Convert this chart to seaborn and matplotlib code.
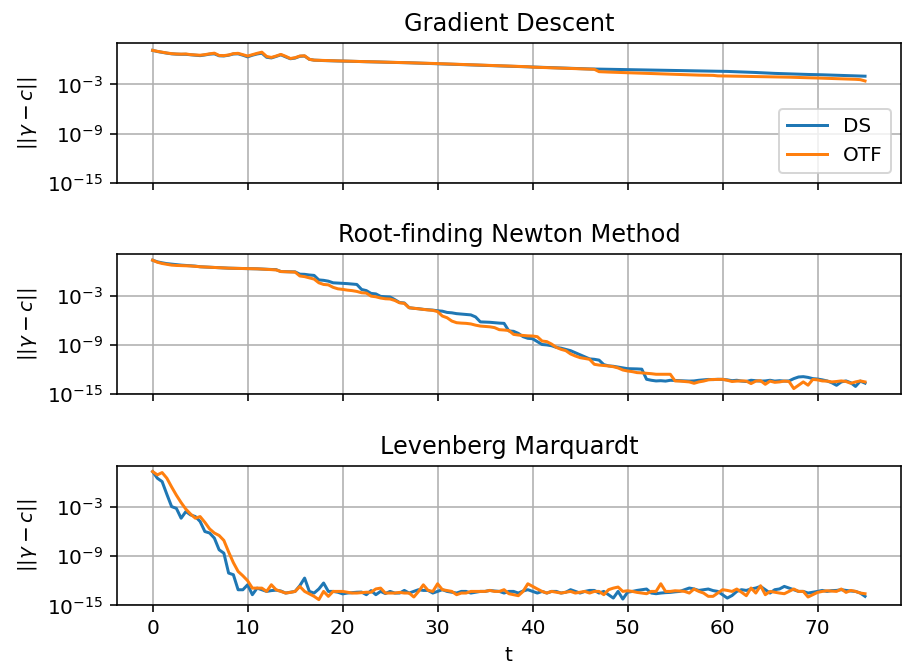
import numpy as np
import pandas as pd
import matplotlib
matplotlib.use("Agg")
import matplotlib.pyplot as plt
import matplotlib.ticker as mticker
import seaborn as sns

# time axis: 0 .. 75 in steps of 0.5
t = np.arange(151) * 0.5

titles = ["Gradient Descent", "Root-finding Newton Method", "Levenberg Marquardt"]
series_names = ["DS", "OTF"]
ylabel = r"$||\gamma - c||$"
xlabel = "t"

# log10 of ||gamma - c||
gd_ds_log = [
    1.14, 1.00, 0.90, 0.80, 0.72, 0.68, 0.66, 0.66, 0.60, 0.55,
    0.50, 0.58, 0.68, 0.72, 0.48, 0.46, 0.55, 0.70, 0.72, 0.55,
    0.35, 0.55, 0.70, 0.80, 0.30, 0.22, 0.40, 0.60, 0.35, 0.12,
    0.20, 0.42, 0.45, 0.05, -0.05, -0.08, -0.10, -0.12, -0.13, -0.15,
    -0.16, -0.18, -0.19, -0.21, -0.22, -0.24, -0.25, -0.27, -0.28, -0.30,
    -0.31, -0.33, -0.34, -0.36, -0.37, -0.39, -0.40, -0.42, -0.44, -0.46,
    -0.48, -0.50, -0.52, -0.54, -0.56, -0.58, -0.60, -0.62, -0.64, -0.66,
    -0.68, -0.70, -0.72, -0.74, -0.76, -0.78, -0.80, -0.82, -0.84, -0.86,
    -0.88, -0.90, -0.92, -0.94, -0.96, -0.98, -1.00, -1.02, -1.04, -1.06,
    -1.08, -1.10, -1.12, -1.13, -1.14, -1.15, -1.16, -1.17, -1.18, -1.19,
    -1.20, -1.21, -1.22, -1.23, -1.24, -1.25, -1.26, -1.27, -1.28, -1.29,
    -1.30, -1.31, -1.32, -1.33, -1.34, -1.35, -1.36, -1.37, -1.38, -1.39,
    -1.40, -1.42, -1.44, -1.46, -1.48, -1.50, -1.52, -1.55, -1.58, -1.61,
    -1.64, -1.66, -1.68, -1.70, -1.72, -1.74, -1.76, -1.78, -1.79, -1.80,
    -1.81, -1.83, -1.85, -1.87, -1.89, -1.91, -1.93, -1.95, -1.97, -1.99, -2.00,
]
gd_otf_log = [
    1.14, 1.02, 0.92, 0.82, 0.74, 0.70, 0.68, 0.70, 0.62, 0.58,
    0.55, 0.62, 0.72, 0.80, 0.52, 0.50, 0.58, 0.74, 0.78, 0.62,
    0.45, 0.62, 0.78, 0.92, 0.40, 0.28, 0.45, 0.65, 0.42, 0.15,
    0.25, 0.45, 0.48, 0.05, -0.05, -0.07, -0.09, -0.11, -0.13, -0.14,
    -0.15, -0.17, -0.19, -0.20, -0.22, -0.23, -0.25, -0.26, -0.28, -0.29,
    -0.31, -0.32, -0.34, -0.35, -0.37, -0.38, -0.40, -0.42, -0.43, -0.45,
    -0.47, -0.49, -0.51, -0.53, -0.55, -0.57, -0.59, -0.61, -0.63, -0.65,
    -0.67, -0.69, -0.71, -0.73, -0.75, -0.77, -0.79, -0.81, -0.83, -0.85,
    -0.90, -0.92, -0.94, -0.96, -0.98, -1.00, -1.02, -1.04, -1.06, -1.08,
    -1.10, -1.12, -1.14, -1.16, -1.45, -1.48, -1.50, -1.52, -1.54, -1.56,
    -1.57, -1.59, -1.61, -1.63, -1.65, -1.67, -1.69, -1.71, -1.73, -1.75,
    -1.77, -1.79, -1.81, -1.83, -1.85, -1.87, -1.88, -1.89, -1.90, -1.96,
    -1.97, -1.98, -1.99, -2.00, -2.01, -2.02, -2.03, -2.04, -2.05, -2.06,
    -2.07, -2.08, -2.09, -2.10, -2.12, -2.14, -2.16, -2.18, -2.19, -2.20,
    -2.22, -2.24, -2.26, -2.28, -2.30, -2.32, -2.34, -2.36, -2.38, -2.42, -2.58,
]
nt_ds_log = [
    1.30, 1.10, 0.98, 0.88, 0.82, 0.76, 0.70, 0.66, 0.62, 0.58,
    0.50, 0.47, 0.44, 0.40, 0.37, 0.35, 0.33, 0.31, 0.30, 0.29,
    0.28, 0.27, 0.25, 0.22, 0.20, 0.17, 0.15, -0.08, -0.10, -0.11,
    -0.12, -0.40, -0.42, -0.50, -0.55, -1.10, -1.15, -1.25, -1.45, -1.48,
    -1.52, -1.55, -1.60, -1.65, -2.26, -2.40, -2.74, -2.80, -3.10, -3.15,
    -3.18, -3.50, -3.85, -3.90, -4.48, -4.55, -4.60, -4.68, -4.72, -4.77,
    -4.85, -4.90, -5.05, -5.10, -5.20, -5.25, -5.29, -5.35, -5.60, -6.20,
    -6.22, -6.25, -6.30, -6.35, -6.38, -7.30, -7.35, -7.60, -8.00, -8.20,
    -8.25, -8.60, -8.95, -9.00, -9.10, -9.30, -9.40, -9.55, -9.70, -9.95,
    -10.20, -10.45, -10.70, -10.75, -10.85, -11.40, -11.55, -11.60, -11.70, -11.80,
    -11.89, -11.90, -11.92, -11.95, -13.18, -13.30, -13.38, -13.35, -13.40, -13.30,
    -13.32, -13.35, -13.38, -13.40, -13.38, -13.30, -13.25, -13.20, -13.22, -13.18,
    -13.20, -13.25, -13.35, -13.30, -13.40, -13.45, -13.30, -13.35, -13.40, -13.38,
    -13.30, -13.40, -13.35, -13.40, -13.38, -13.10, -12.90, -12.86, -12.95, -13.10,
    -13.15, -13.25, -13.38, -13.60, -13.91, -13.50, -13.38, -13.60, -14.05, -13.40, -13.65,
]
nt_otf_log = [
    1.30, 1.05, 0.90, 0.80, 0.70, 0.66, 0.64, 0.62, 0.60, 0.55,
    0.50, 0.47, 0.44, 0.40, 0.37, 0.35, 0.33, 0.31, 0.30, 0.29,
    0.28, 0.27, 0.25, 0.22, 0.20, 0.15, 0.12, -0.08, -0.10, -0.11,
    -0.15, -0.62, -0.70, -0.85, -1.00, -1.45, -1.65, -1.70, -2.00, -2.18,
    -2.25, -2.34, -2.40, -2.50, -2.66, -2.70, -3.07, -3.15, -3.30, -3.39,
    -3.42, -3.60, -3.88, -3.95, -4.48, -4.55, -4.62, -4.70, -4.75, -4.80,
    -4.95, -5.49, -5.70, -6.10, -6.30, -6.35, -6.38, -6.45, -6.60, -6.71,
    -6.75, -6.80, -6.90, -7.15, -7.19, -7.25, -7.72, -7.80, -7.85, -7.90,
    -7.92, -8.00, -8.53, -8.60, -8.90, -9.30, -9.54, -9.70, -10.10, -10.35,
    -10.55, -10.65, -10.75, -11.36, -11.45, -11.50, -11.56, -11.65, -11.80, -12.05,
    -12.17, -12.25, -12.37, -12.40, -12.45, -12.50, -12.57, -12.57, -12.57, -12.57,
    -13.38, -13.40, -13.45, -13.50, -13.67, -13.50, -13.40, -13.25, -13.20, -13.20,
    -13.18, -13.30, -13.45, -13.40, -13.38, -13.40, -13.70, -13.40, -13.35, -13.79,
    -13.40, -13.55, -13.50, -13.40, -13.45, -14.31, -13.90, -13.50, -13.90, -13.20,
    -13.25, -13.38, -13.40, -13.50, -13.45, -13.38, -13.45, -13.67, -13.50, -13.38, -13.50,
]
lm_ds_log = [
    1.27, 0.46, 0.05, -1.50, -2.99, -3.20, -4.40, -3.59, -4.00, -4.20,
    -4.80, -6.02, -6.20, -6.82, -8.24, -8.65, -11.07, -11.27, -13.10, -13.10,
    -12.49, -13.70, -12.90, -13.10, -13.30, -13.20, -13.15, -13.25, -13.50, -13.40,
    -13.30, -12.60, -11.68, -13.30, -13.50, -13.00, -12.28, -13.30, -13.30, -13.40,
    -13.60, -13.50, -13.45, -13.40, -13.38, -13.70, -13.20, -13.70, -13.30, -13.56,
    -13.30, -13.50, -13.50, -13.18, -13.50, -13.30, -13.09, -13.18, -13.18, -13.50,
    -13.30, -13.09, -13.30, -13.40, -13.50, -13.30, -13.30, -13.50, -13.40, -13.30,
    -13.30, -13.18, -13.25, -13.30, -13.50, -13.30, -13.30, -13.50, -13.25, -13.09,
    -13.30, -13.50, -13.30, -13.50, -13.30, -13.30, -13.50, -13.40, -13.09, -13.30,
    -13.50, -13.30, -13.18, -13.18, -13.50, -13.30, -13.70, -14.11, -13.30, -14.23,
    -13.40, -13.30, -13.18, -13.10, -13.01, -13.50, -13.58, -13.50, -13.45, -13.42,
    -13.35, -13.30, -13.10, -12.89, -13.00, -13.18, -13.10, -13.01, -13.20, -13.30,
    -13.70, -14.11, -13.80, -13.30, -13.09, -13.18, -13.00, -12.89, -12.69, -13.10,
    -13.50, -13.09, -13.00, -12.69, -12.89, -13.10, -13.30, -13.30, -13.50, -13.40,
    -13.30, -13.18, -13.30, -13.20, -13.18, -13.09, -13.18, -13.25, -13.30, -13.50, -13.90,
]
lm_otf_log = [
    1.27, 0.87, 1.15, 0.46, -0.60, -1.60, -2.50, -3.30, -3.90, -4.40,
    -4.20, -4.90, -5.70, -6.20, -6.50, -7.10, -8.50, -9.80, -10.87, -11.40,
    -12.00, -12.90, -12.90, -12.90, -13.30, -12.49, -13.10, -13.30, -13.50, -13.42,
    -13.30, -12.70, -13.30, -13.60, -13.90, -14.30, -13.30, -13.90, -13.30, -13.30,
    -13.30, -13.40, -13.50, -13.50, -13.45, -13.40, -13.40, -13.00, -12.90, -13.50,
    -13.50, -13.50, -13.42, -13.50, -13.50, -13.98, -13.30, -12.50, -13.18, -13.30,
    -12.37, -13.09, -13.20, -13.30, -13.70, -13.50, -13.50, -13.30, -13.30, -13.30,
    -13.30, -13.18, -13.30, -13.30, -13.09, -13.58, -13.70, -13.82, -13.30, -12.37,
    -12.69, -13.00, -13.30, -13.50, -13.30, -13.40, -13.50, -13.40, -13.30, -13.50,
    -13.40, -13.30, -13.50, -13.30, -13.30, -13.70, -13.09, -12.90, -12.77, -13.30,
    -13.22, -13.30, -13.42, -13.50, -13.58, -13.30, -13.30, -12.37, -13.30, -13.30,
    -13.22, -13.25, -13.30, -13.50, -13.01, -13.30, -13.50, -13.90, -13.90, -13.50,
    -13.09, -13.18, -13.30, -13.01, -13.40, -13.82, -12.89, -13.50, -12.61, -13.70,
    -13.30, -13.40, -13.50, -13.58, -13.30, -13.01, -13.30, -13.30, -13.98, -13.70,
    -13.42, -13.30, -13.22, -13.26, -13.30, -13.01, -13.42, -13.18, -13.30, -13.50, -13.58,
]

panels = [
    (gd_ds_log, gd_otf_log),
    (nt_ds_log, nt_otf_log),
    (lm_ds_log, lm_otf_log),
]
colors = ["#1f77b4", "#ff7f0e"]

DPI = 144
fig, axes = plt.subplots(3, 1, figsize=(907 / DPI, 666 / DPI), dpi=DPI, sharex=True)
fig.subplots_adjust(left=0.129, right=0.993, top=0.935, bottom=0.091, hspace=0.51)

for k, (ax, (ds, otf), title) in enumerate(zip(axes, panels, titles)):
    for name, vals, col in zip(series_names, (ds, otf), colors):
        df = pd.DataFrame({"t": t, "err": np.power(10.0, np.asarray(vals))})
        sns.lineplot(data=df, x="t", y="err", ax=ax, color=col, label=name,
                     linewidth=1.5, legend=False)
    ax.set_yscale("log")
    ax.set_ylim(1e-15, 1e2)
    ax.set_yticks([1e-15, 1e-9, 1e-3])
    ax.yaxis.set_minor_locator(mticker.NullLocator())
    ax.grid(True, color="#b0b0b0", linewidth=0.8)
    ax.set_title(title, fontsize=12)
    ax.set_ylabel(ylabel, fontsize=10)
    ax.set_xlabel("")
    ax.set_xticks([0, 10, 20, 30, 40, 50, 60, 70])

axes[0].legend(loc="lower right", fontsize=10)
axes[2].set_xlabel(xlabel, fontsize=10)

fig.savefig("out.png", dpi=DPI)
